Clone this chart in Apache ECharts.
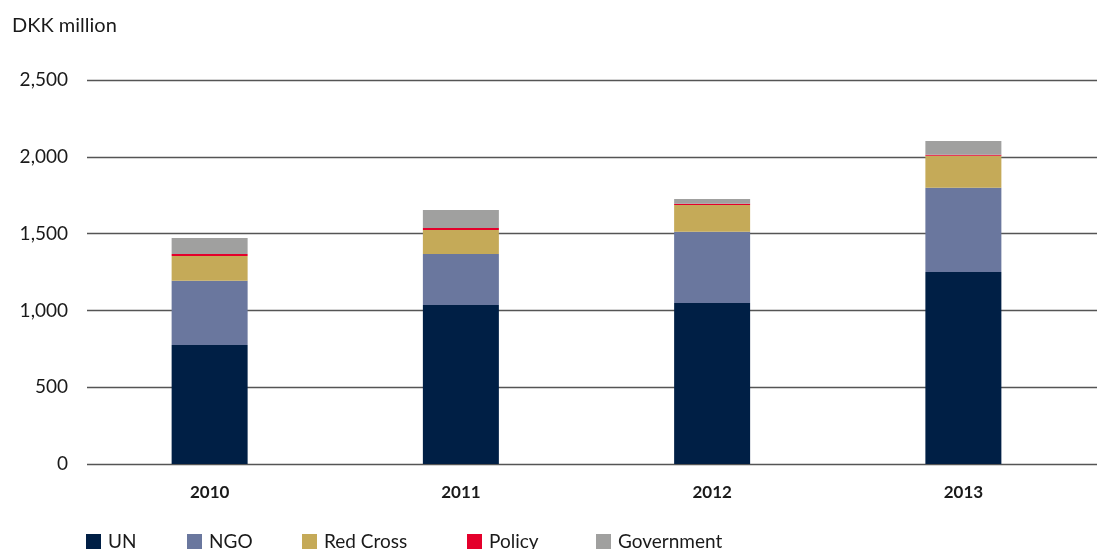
<!DOCTYPE html>
<html><head><meta charset="utf-8">
<script src="https://cdn.jsdelivr.net/npm/echarts@6/dist/echarts.min.js"></script>
<style>html,body{margin:0;padding:0;background:#fff}#c{width:1097px;height:549px}</style>
</head><body><div id="c"></div>
<script>
const years = ['2010', '2011', '2012', '2013'];
const un = [775, 1035, 1048, 1250];
const ngo = [418, 332, 464, 549];
const redCross = [161, 156, 174, 208];
const policy = [13, 13, 9, 7];
const government = [104, 118, 30, 89];
const yTicks = [0, 500, 1000, 1500, 2000, 2500];
const seriesNames = ['UN', 'NGO', 'Red Cross', 'Policy', 'Government'];

const FONT = 'Lato';
const legendLeft = [81, 182, 297, 462, 591];
const chart = echarts.init(document.getElementById('c'));
function mk(name, data, color) {
  return { name, type: 'bar', stack: 'total', data, xAxisIndex: 1, yAxisIndex: 1,
    barWidth: 76, itemStyle: { color }, emphasis: { disabled: true } };
}
chart.setOption({
  animation: false,
  textStyle: { fontFamily: FONT },
  graphic: [{ type: 'text', left: 12, top: 16, style: { text: 'DKK million', fontSize: 20, fill: '#1a1a1a', fontFamily: FONT } }],
  legend: seriesNames.map((n, i) => ({
    left: legendLeft[i], top: 527, itemWidth: 15, itemHeight: 15,
    icon: 'rect',
    textStyle: { fontSize: 19, color: '#1a1a1a', fontFamily: FONT, padding: [0, 0, 0, 2] },
    data: [n]
  })),
  grid: [
    { left: 87, right: 0, top: 80, bottom: 85 },
    { left: 84, right: 8, top: 80, bottom: 85 }
  ],
  xAxis: [
    { type: 'category', gridIndex: 0, data: years, show: false },
    { type: 'category', gridIndex: 1, data: years,
      axisLine: { show: false }, axisTick: { show: false },
      axisLabel: { fontSize: 17, fontWeight: 'bold', color: '#1a1a1a', margin: 20, fontFamily: FONT } }
  ],
  yAxis: [
    { type: 'value', gridIndex: 0, min: 0, max: 2500, interval: 500,
      axisLine: { show: false }, axisTick: { show: false },
      splitLine: { lineStyle: { color: '#555', width: 1.3 } },
      axisLabel: { fontSize: 19, color: '#1a1a1a', margin: 19, fontFamily: FONT,
        formatter: v => yTicks.includes(v) ? v.toLocaleString('en-US') : '' } },
    { type: 'value', gridIndex: 1, min: 0, max: 2500, interval: 500, show: false, splitLine: { show: false } }
  ],
  series: [
    mk('UN', un, '#001f45'),
    mk('NGO', ngo, '#6a779e'),
    mk('Red Cross', redCross, '#c5aa58'),
    mk('Policy', policy, '#e4002b'),
    mk('Government', government, '#a0a09f')
  ]
});
</script></body></html>
